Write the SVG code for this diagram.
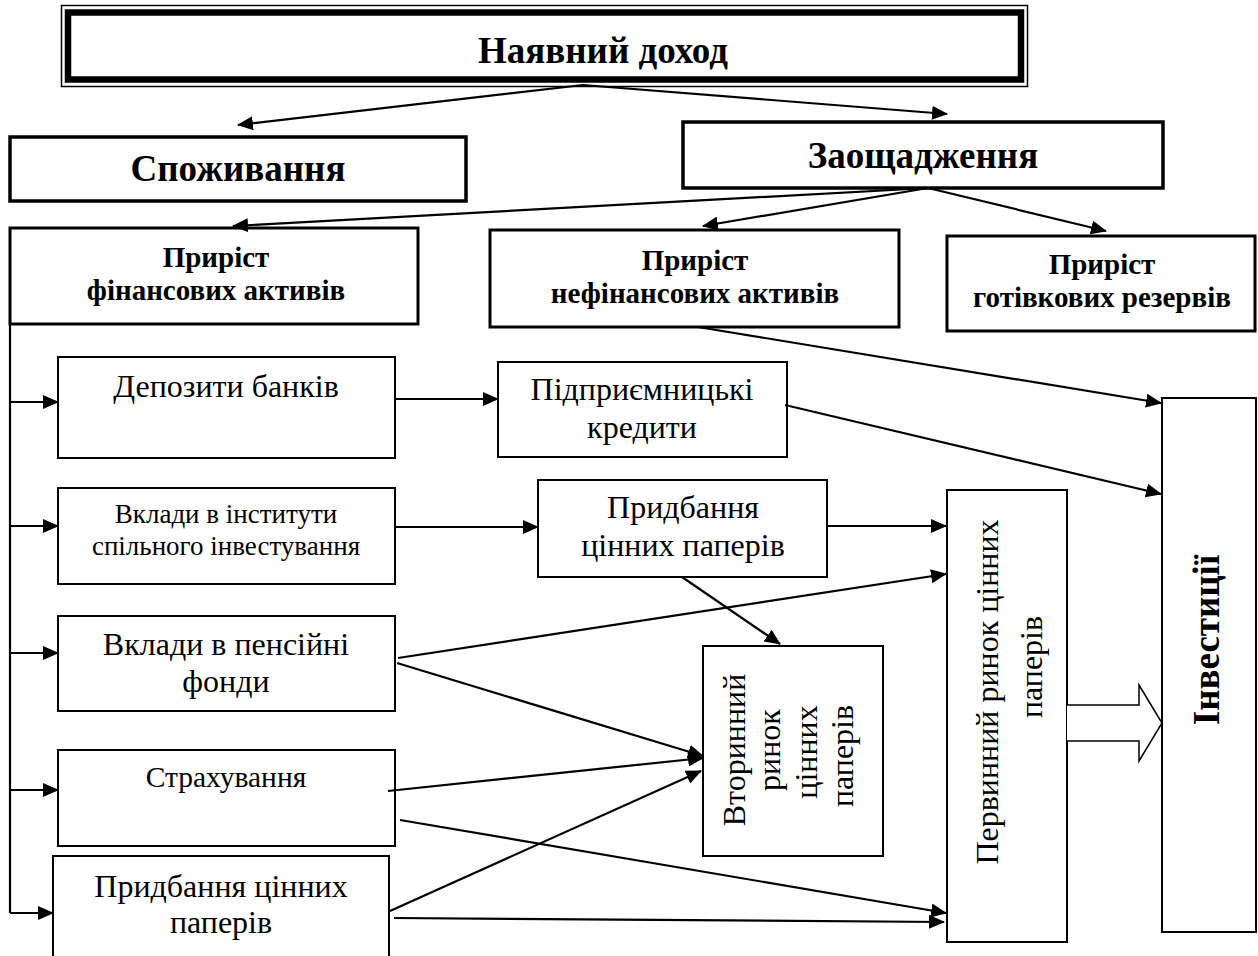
<svg xmlns="http://www.w3.org/2000/svg" width="1258" height="956" viewBox="0 0 1258 956">
<defs>
<marker id="ah" markerWidth="16" markerHeight="14" refX="15" refY="7" orient="auto" markerUnits="userSpaceOnUse">
<path d="M0,0 L16,7 L0,14 Z" fill="#000"/>
</marker>
<style>
.b{fill:#fff;stroke:#000;stroke-width:3.5}
.m{fill:#fff;stroke:#000;stroke-width:3}
.t{fill:#fff;stroke:#000;stroke-width:2}
.c{fill:none;stroke:#000;stroke-width:2.2;marker-end:url(#ah)}
.l{fill:none;stroke:#000;stroke-width:2.2}
.h{font-family:"Liberation Serif",serif;font-weight:bold;fill:#000;text-anchor:middle}
.n{font-family:"Liberation Serif",serif;fill:#000;text-anchor:middle}
</style>
</defs>
<rect width="1258" height="956" fill="#fff"/>
<g id="n-income">
<rect x="61.5" y="5.5" width="966" height="81" fill="#fff" stroke="#000" stroke-width="1.5"/>
<rect x="68" y="12.5" width="953" height="67" fill="none" stroke="#000" stroke-width="6.5"/>
<text class="h" x="603" y="63" font-size="37">Наявний доход</text>
</g>
<g id="n-consumption">
<rect class="b" x="10" y="137" width="456" height="64"/>
<text class="h" x="238" y="181" font-size="37">Споживання</text>
</g>
<g id="n-savings">
<rect class="b" x="683" y="122" width="480" height="66"/>
<text class="h" x="923" y="168" font-size="37">Заощадження</text>
</g>
<g id="n-fin">
<rect class="m" x="10" y="228" width="408" height="96"/>
<text class="h" x="216" y="267" font-size="29">Приріст</text>
<text class="h" x="216" y="300" font-size="29">фінансових активів</text>
</g>
<g id="n-nonfin">
<rect class="m" x="490" y="230" width="409" height="97"/>
<text class="h" x="695" y="270" font-size="29">Приріст</text>
<text class="h" x="695" y="303" font-size="29">нефінансових активів</text>
</g>
<g id="n-cash">
<rect class="m" x="947" y="236" width="308" height="95"/>
<text class="h" x="1102" y="274" font-size="29">Приріст</text>
<text class="h" x="1102" y="307" font-size="29">готівкових резервів</text>
</g>
<g id="n-deposits">
<rect class="t" x="58" y="357" width="337" height="101"/>
<text class="n" x="226" y="397" font-size="32">Депозити банків</text>
</g>
<g id="n-credits">
<rect class="t" x="498" y="362" width="289" height="95"/>
<text class="n" x="642" y="400" font-size="32">Підприємницькі</text>
<text class="n" x="642" y="438" font-size="32">кредити</text>
</g>
<g id="n-funds">
<rect class="t" x="58" y="488" width="337" height="96"/>
<text class="n" x="226" y="523" font-size="27">Вклади в інститути</text>
<text class="n" x="226" y="555" font-size="27">спільного інвестування</text>
</g>
<g id="n-buy-mid">
<rect class="t" x="538" y="480" width="289" height="97"/>
<text class="n" x="683" y="518" font-size="32">Придбання</text>
<text class="n" x="683" y="556" font-size="32">цінних паперів</text>
</g>
<g id="n-pension">
<rect class="t" x="58" y="616" width="337" height="95"/>
<text class="n" x="226" y="655" font-size="32">Вклади в пенсійні</text>
<text class="n" x="226" y="692" font-size="32">фонди</text>
</g>
<g id="n-insurance">
<rect class="t" x="58" y="750" width="337" height="96"/>
<text class="n" x="226" y="787" font-size="29.5">Страхування</text>
</g>
<g id="n-buy-bottom">
<rect class="t" x="53" y="856" width="336" height="110"/>
<text class="n" x="221" y="897" font-size="32">Придбання цінних</text>
<text class="n" x="221" y="933" font-size="32">паперів</text>
</g>
<g id="n-secondary">
<rect class="t" x="703" y="646" width="180" height="210"/>
<g class="n" font-size="32">
<text transform="translate(745,750) rotate(-90)">Вторинний</text>
<text transform="translate(780,750) rotate(-90)">ринок</text>
<text transform="translate(817,752) rotate(-90)">цінних</text>
<text transform="translate(853,756) rotate(-90)">паперів</text>
</g>
</g>
<g id="n-primary">
<rect class="t" x="947" y="490" width="120" height="452"/>
<g class="n" font-size="32">
<text transform="translate(998,692) rotate(-90)">Первинний ринок цінних</text>
<text transform="translate(1042,667) rotate(-90)">паперів</text>
</g>
</g>
<g id="n-invest">
<rect class="t" x="1162" y="398" width="94" height="534"/>
<text class="h" transform="translate(1219,640) rotate(-90)" font-size="37">Інвестиції</text>
</g>
<g id="connectors">
<path class="c" d="M583,85 L238,125"/>
<path class="c" d="M583,85 L947,114"/>
<path class="c" d="M928,188 L233,226"/>
<path class="c" d="M928,188 L703,226"/>
<path class="c" d="M928,188 L1106,231"/>
<path class="l" d="M10,324 L10,913"/>
<path class="c" d="M10,402 L58,402"/>
<path class="c" d="M10,526 L58,526"/>
<path class="c" d="M10,653 L58,653"/>
<path class="c" d="M10,790 L58,790"/>
<path class="c" d="M10,913 L53,913"/>
<path class="c" d="M395,399 L498,399"/>
<path class="c" d="M395,527 L538,527"/>
<path class="c" d="M827,526 L946,526"/>
<path class="c" d="M698,327 L1161,403"/>
<path class="c" d="M785,405 L1161,494"/>
<path class="c" d="M682,577 L780,644"/>
<path class="c" d="M398,658 L946,574"/>
<path class="c" d="M397,663 L703,756"/>
<path class="c" d="M388,791 L703,758"/>
<path class="c" d="M400,820 L946,913"/>
<path class="c" d="M390,911 L701,771"/>
<path class="c" d="M394,918 L944,922"/>
<path d="M1067,705 L1139,705 L1139,685 L1162,723 L1139,761 L1139,741 L1067,741" fill="#fff" stroke="#000" stroke-width="1.5"/>
</g>
</svg>
